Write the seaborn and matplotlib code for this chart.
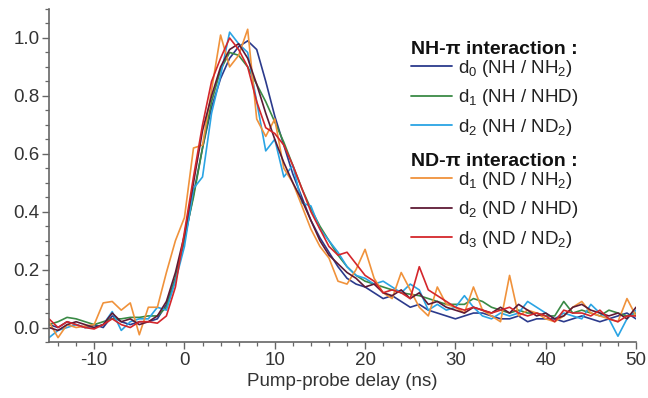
import numpy as np
import pandas as pd
import matplotlib
matplotlib.use("Agg")
import matplotlib.pyplot as plt
from matplotlib.ticker import MultipleLocator
import seaborn as sns

# ---------------- data ----------------
delay = list(range(-15, 51))  # ns

d0_nh_nh2 = [0.01, 0.00, 0.02, 0.01, 0.00, 0.01, 0.00, 0.04, 0.02, 0.01, 0.02, 0.02,
             0.03, 0.08, 0.17, 0.30, 0.46, 0.62, 0.76,
             0.86, 0.93, 0.97, 0.99, 0.96, 0.85, 0.73,
             0.63, 0.53, 0.45, 0.37, 0.31, 0.26, 0.21, 0.17, 0.15, 0.14,
             0.12, 0.10, 0.11, 0.09, 0.07, 0.08, 0.06, 0.05, 0.04, 0.03,
             0.04, 0.05, 0.05, 0.04, 0.03, 0.03, 0.04, 0.02, 0.03, 0.03,
             0.03, 0.02, 0.03, 0.04, 0.03, 0.02, 0.03, 0.04, 0.05, 0.03]

d1_nh_nhd = [0.01, 0.02, 0.035, 0.03, 0.02, 0.01, 0.02, 0.03, 0.03, 0.035, 0.035, 0.04,
             0.04, 0.07, 0.17, 0.31, 0.45, 0.62, 0.78,
             0.89, 0.95, 0.94, 0.90, 0.84, 0.78, 0.71,
             0.64, 0.56, 0.48, 0.41, 0.35, 0.30, 0.25, 0.21, 0.18, 0.16,
             0.15, 0.14, 0.13, 0.12, 0.115, 0.11, 0.10, 0.09, 0.08, 0.08,
             0.08, 0.10, 0.09, 0.07, 0.06, 0.05, 0.06, 0.05, 0.05, 0.04,
             0.04, 0.09, 0.05, 0.06, 0.05, 0.04, 0.06, 0.05, 0.04, 0.05]

d2_nh_nd2 = [-0.035, -0.01, 0.00, 0.01, 0.00, 0.00, 0.01, 0.055, -0.01, 0.02, 0.03, 0.03,
             0.07, 0.06, 0.16, 0.28, 0.48, 0.52, 0.74,
             0.87, 1.02, 0.98, 0.95, 0.78, 0.61, 0.65,
             0.52, 0.56, 0.43, 0.42, 0.34, 0.30, 0.26, 0.21, 0.18, 0.17,
             0.15, 0.16, 0.14, 0.12, 0.15, 0.13, 0.06, 0.08, 0.06, 0.07,
             0.11, 0.07, 0.04, 0.03, 0.05, 0.04, 0.05, 0.09, 0.07, 0.05,
             0.03, 0.05, 0.04, 0.03, 0.08, 0.05, 0.03, -0.03, 0.03, 0.06]

d1_nd_nh2 = [0.02, -0.035, 0.01, 0.00, 0.005, 0.01, 0.085, 0.09, 0.06, 0.085, -0.025, 0.07,
             0.07, 0.19, 0.30, 0.38, 0.62, 0.63, 0.82,
             1.01, 0.90, 0.94, 1.03, 0.72, 0.66, 0.72,
             0.55, 0.50, 0.42, 0.34, 0.28, 0.24, 0.16, 0.15, 0.20, 0.27,
             0.17, 0.12, 0.10, 0.19, 0.13, 0.07, 0.04, 0.14, 0.08, 0.07,
             0.05, 0.14, 0.06, 0.04, 0.02, 0.18, 0.04, 0.06, 0.05, 0.03,
             0.02, 0.04, 0.07, 0.09, 0.05, 0.04, 0.03, 0.02, 0.10, 0.04]

d2_nd_nhd = [0.00, -0.01, 0.01, 0.02, 0.01, 0.00, 0.01, 0.05, 0.02, 0.03, 0.01, 0.02,
             0.04, 0.09, 0.19, 0.32, 0.50, 0.68, 0.80,
             0.90, 0.96, 0.98, 0.93, 0.84, 0.74, 0.65,
             0.57, 0.50, 0.44, 0.37, 0.30, 0.25, 0.22, 0.19, 0.17, 0.14,
             0.15, 0.12, 0.11, 0.13, 0.10, 0.12, 0.08, 0.09, 0.07, 0.06,
             0.05, 0.07, 0.06, 0.05, 0.07, 0.05, 0.08, 0.06, 0.04, 0.05,
             0.03, 0.04, 0.07, 0.08, 0.06, 0.05, 0.04, 0.05, 0.03, 0.07]

d3_nd_nd2 = [0.03, 0.00, 0.02, 0.01, 0.00, -0.005, 0.01, 0.03, 0.01, 0.00, 0.02, 0.02,
             0.015, 0.04, 0.14, 0.33, 0.52, 0.70, 0.85,
             0.93, 1.00, 0.96, 0.90, 0.78, 0.69, 0.67,
             0.63, 0.56, 0.48, 0.40, 0.34, 0.28, 0.25, 0.26, 0.22, 0.18,
             0.16, 0.12, 0.13, 0.12, 0.10, 0.21, 0.13, 0.11, 0.09, 0.07,
             0.06, 0.07, 0.06, 0.05, 0.06, 0.07, 0.05, 0.04, 0.05, 0.04,
             0.02, 0.06, 0.05, 0.05, 0.04, 0.06, 0.03, 0.02, 0.04, 0.04]

nh_labels = ["d$_0$ (NH / NH$_2$)", "d$_1$ (NH / NHD)", "d$_2$ (NH / ND$_2$)"]
nd_labels = ["d$_1$ (ND / NH$_2$)", "d$_2$ (ND / NHD)", "d$_3$ (ND / ND$_2$)"]
nh_title = "NH-π interaction :"
nd_title = "ND-π interaction :"
x_label = "Pump-probe delay (ns)"

nh_series = [d0_nh_nh2, d1_nh_nhd, d2_nh_nd2]
nd_series = [d1_nd_nh2, d2_nd_nhd, d3_nd_nd2]
nh_colors = ["#2b3a8c", "#3a8a45", "#2aa4e4"]
nd_colors = ["#f0923b", "#5e1a35", "#d4262b"]

# ---------------- style ----------------
sns.set_theme(style="ticks")
plt.rcParams["font.family"] = ["Liberation Sans", "DejaVu Sans"]
plt.rcParams["mathtext.fontset"] = "custom"
plt.rcParams["mathtext.rm"] = "Liberation Sans"
plt.rcParams["mathtext.it"] = "Liberation Sans:italic"
plt.rcParams["mathtext.bf"] = "Liberation Sans:bold"

fig = plt.figure(figsize=(6.48, 3.98), dpi=100)
ax = fig.add_axes([49 / 648, 1 - 342 / 398, (636 - 49) / 648, (342 - 9) / 398])

for vals, col, lab in zip(nh_series, nh_colors, nh_labels):
    sns.lineplot(x=delay, y=vals, color=col, lw=1.2, ax=ax, label=lab)
for vals, col, lab in zip(nd_series, nd_colors, nd_labels):
    sns.lineplot(x=delay, y=vals, color=col, lw=1.2, ax=ax, label=lab)

handles, labels = ax.get_legend_handles_labels()
ax.get_legend().remove()

ax.set_xlim(-15, 50)
ax.set_ylim(-0.05, 1.1)
ax.xaxis.set_major_locator(MultipleLocator(10))
ax.xaxis.set_minor_locator(MultipleLocator(2))
ax.yaxis.set_major_locator(MultipleLocator(0.2))
ax.yaxis.set_minor_locator(MultipleLocator(0.05))
ax.set_xticks([-10, 0, 10, 20, 30, 40, 50])
ax.set_xticklabels(["-10", "0", "10", "20", "30", "40", "50"])
ax.set_yticks([0.0, 0.2, 0.4, 0.6, 0.8, 1.0])
ax.set_yticklabels(["0.0", "0.2", "0.4", "0.6", "0.8", "1.0"])

sns.despine(ax=ax)
for s in ["left", "bottom"]:
    ax.spines[s].set_color("#666666")
    ax.spines[s].set_linewidth(1.2)
ax.tick_params(which="major", direction="out", length=5, width=1.0, color="#666666",
               labelsize=13.5, labelcolor="#333333", pad=2)
ax.tick_params(which="minor", direction="out", length=3, width=0.9, color="#666666")
ax.set_xlabel(x_label, fontsize=13.5, color="#333333", labelpad=3)
ax.set_ylabel("")

leg_kw = dict(loc="upper left", frameon=False, fontsize=13.5, handlelength=2.2,
              handletextpad=0.3, labelspacing=0.45, borderpad=0, borderaxespad=0,
              alignment="left", bbox_transform=fig.transFigure,
              title_fontproperties={"weight": "bold", "size": 14})
leg1 = ax.legend(handles[:3], labels[:3], title=nh_title,
                 bbox_to_anchor=(411 / 648, 1 - 41 / 398), **leg_kw)
ax.add_artist(leg1)
leg2 = ax.legend(handles[3:], labels[3:], title=nd_title,
                 bbox_to_anchor=(411 / 648, 1 - 153 / 398), **leg_kw)
for lg in (leg1, leg2):
    lg.get_title().set_color("#111111")
    lg._legend_box.sep = 0
    for t in lg.get_texts():
        t.set_color("#222222")
    for h in lg.legend_handles:
        h.set_linewidth(1.3)

fig.savefig("out.png", dpi=100)
